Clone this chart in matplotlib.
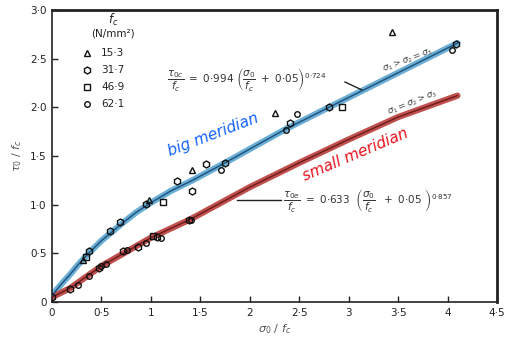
import matplotlib
matplotlib.use("Agg")
import matplotlib.pyplot as plt

# ---- data -------------------------------------------------------------
# compression (big) meridian fit curve
big_x = [0.0, 0.05, 0.10, 0.18, 0.27, 0.37, 0.50, 0.70, 0.85, 1.00, 1.20, 1.42, 1.75, 2.05, 2.37, 2.80, 3.45, 4.10]
big_y = [0.06, 0.13, 0.19, 0.28, 0.39, 0.50, 0.63, 0.80, 0.92, 1.02, 1.14, 1.25, 1.43, 1.60, 1.78, 2.00, 2.33, 2.66]
# extension (small) meridian fit curve
small_x = [0.0, 0.18, 0.50, 1.00, 1.40, 2.00, 2.50, 3.00, 3.50, 4.10]
small_y = [0.05, 0.14, 0.37, 0.66, 0.85, 1.18, 1.43, 1.67, 1.90, 2.12]

# test results grouped by concrete strength f_c (N/mm^2)
strengths = ["15·3", "31·7", "46·9", "62·1"]
tri_x = [0.31, 0.98, 1.42, 2.26, 3.44]
tri_y = [0.43, 1.05, 1.36, 1.94, 2.77]
hex_x = [0.37, 0.59, 0.69, 0.95, 1.26, 1.42, 1.56, 1.75, 2.41, 2.80, 4.09,
         0.00, 0.18, 0.48, 0.72, 0.87, 1.06, 1.39]
hex_y = [0.52, 0.73, 0.82, 1.01, 1.24, 1.14, 1.42, 1.43, 1.84, 2.00, 2.65,
         0.05, 0.13, 0.35, 0.52, 0.57, 0.67, 0.84]
sq_x = [0.34, 1.12, 2.93, 1.02]
sq_y = [0.46, 1.03, 2.00, 0.68]
cir_x = [1.71, 2.37, 2.48, 4.05, 0.26, 0.37, 0.50, 0.55, 0.755, 0.95, 1.10, 1.41]
cir_y = [1.36, 1.77, 1.93, 2.59, 0.17, 0.27, 0.37, 0.39, 0.53, 0.61, 0.66, 0.84]

xticks = [0, 0.5, 1, 1.5, 2, 2.5, 3, 3.5, 4, 4.5]
xticklabels = ["0", "0·5", "1", "1·5", "2", "2·5", "3", "3·5", "4", "4·5"]
yticks = [0, 0.5, 1.0, 1.5, 2.0, 2.5, 3.0]
yticklabels = ["0", "0·5", "1·0", "1·5", "2·0", "2·5", "3·0"]

# ---- figure -----------------------------------------------------------
W, H = 509, 338
fig = plt.figure(figsize=(W / 100, H / 100), dpi=100)
L, R, T, B = 52, 497, 10, 302
ax = fig.add_axes([L / W, 1 - B / H, (R - L) / W, (B - T) / H])
ax.set_xlim(0, 4.5)
ax.set_ylim(0, 3.0)


def P(px, py):
    """pixel position -> data position"""
    return (px - L) / (R - L) * 4.5, (B - py) / (B - T) * 3.0


ink = "#222222"
for s in ax.spines.values():
    s.set_color(ink)
    s.set_linewidth(1.2)
ax.spines["top"].set_linewidth(2.0)
ax.spines["right"].set_linewidth(2.0)

ax.set_xticks(xticks)
ax.set_xticklabels(xticklabels)
ax.set_yticks(yticks)
ax.set_yticklabels(yticklabels)
ax.tick_params(direction="in", length=4, width=1, colors=ink, labelsize=7.5, pad=4)

ax.set_xlabel(r"$\sigma_0\ /\ f_c$", fontsize=8, color="#555555", labelpad=3)
ax.set_ylabel(r"$\tau_0\ /\ f_c$", fontsize=8, color="#555555", labelpad=4)

# fit curves with highlighted bands
ax.plot(big_x, big_y, color="#6aaed6", lw=4.5, solid_capstyle="round",
        solid_joinstyle="round", zorder=2)
ax.plot(big_x, big_y, color="#1d4f78", lw=1.0, zorder=3)
ax.plot(small_x, small_y, color="#c0504d", lw=4.5, solid_capstyle="round",
        solid_joinstyle="round", zorder=2)
ax.plot(small_x, small_y, color="#6b1c1c", lw=1.0, zorder=3)

mk = dict(linestyle="none", markerfacecolor="none", markeredgecolor="#111111",
          markeredgewidth=1.0, zorder=4)
ax.plot(tri_x, tri_y, marker="^", markersize=4.5, **mk)
ax.plot(hex_x, hex_y, marker="h", markersize=5.0, **mk)
ax.plot(sq_x, sq_y, marker="s", markersize=4.3, **mk)
ax.plot(cir_x, cir_y, marker="o", markersize=4.0, **mk)

# strength key
ax.text(*P(113, 20), r"$f_c$", ha="center", va="center", fontsize=8.5, color=ink)
ax.text(*P(113, 34), "(N/mm²)", ha="center", va="center", fontsize=7.5, color=ink)
key_markers = [("^", 4.5), ("h", 5.0), ("s", 4.3), ("o", 4.0)]
for i, (lab, (m, ms)) in enumerate(zip(strengths, key_markers)):
    py = 53 + i * 17
    ax.plot(*P(87, py), marker=m, markersize=ms, **mk)
    ax.text(*P(101, py), lab, ha="left", va="center", fontsize=7.5, color=ink)

# fitted expressions with leader lines
ax.text(*P(167, 80),
        r"$\dfrac{\tau_{0c}}{f_c}\ =\ 0{\cdot}994\ \left(\dfrac{\sigma_0}{f_c}\ +\ 0{\cdot}05\right)^{0{\cdot}724}$",
        ha="left", va="center", fontsize=7.5, color="#333333")
ax.plot(*zip(P(345, 82), P(362, 90)), color=ink, lw=1.0)
ax.text(*P(283, 200),
        r"$\dfrac{\tau_{0e}}{f_c}\ =\ 0{\cdot}633\ \ \left(\dfrac{\sigma_0}{f_c}\ \ +\ 0{\cdot}05\ \right)^{0{\cdot}857}$",
        ha="left", va="center", fontsize=7.5, color="#333333")
ax.plot(*zip(P(237, 200), P(281, 200)), color=ink, lw=1.0)

# stress state along each meridian
ax.text(*P(408, 60), r"$\sigma_1 > \sigma_2 = \sigma_3$", ha="center", va="center",
        rotation=21, fontsize=6.5, color="#444444")
ax.text(*P(413, 103), r"$\sigma_1 = \sigma_2 > \sigma_3$", ha="center", va="center",
        rotation=22, fontsize=6.5, color="#444444")

# meridian names
ax.text(*P(213, 135), "big meridian", ha="center", va="center", rotation=21,
        fontsize=11, style="italic", color="#1463ff")
ax.text(*P(355, 155), "small meridian", ha="center", va="center", rotation=23,
        fontsize=11, style="italic", color="#e8141e")

fig.savefig("out.png", dpi=100)
